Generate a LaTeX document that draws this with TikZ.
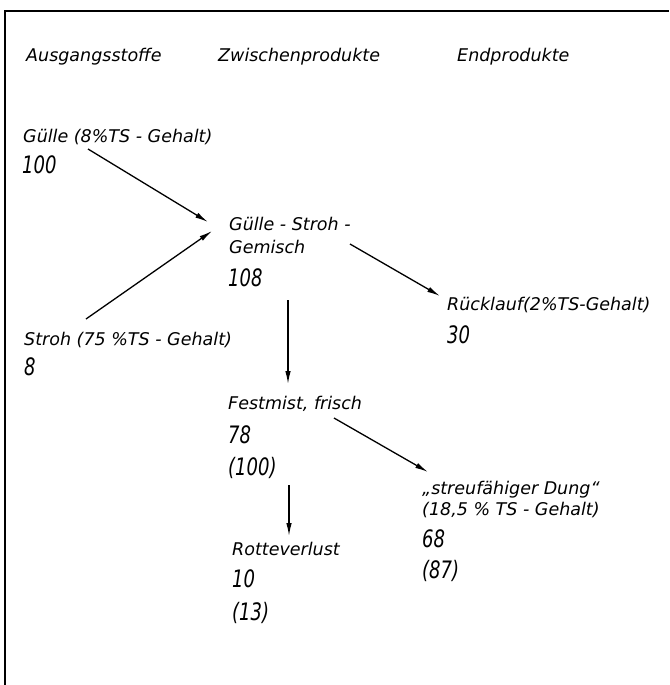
\documentclass[tikz,border=0pt]{standalone}
\usepackage{fontspec}
\setmainfont{DejaVu Sans}
\newfontfamily\numfont[FakeStretch=0.75]{DejaVu Sans}
\usepackage{tikz}
\usetikzlibrary{arrows.meta,calc}

\begin{document}
\begin{tikzpicture}[
  x=1pt,y=-1pt,
  lbl/.style={anchor=base west,inner sep=0pt,font=\fontsize{17.5}{21}\selectfont\itshape},
  val/.style={anchor=base west,inner sep=0pt,font=\fontsize{24}{28}\selectfont\numfont\itshape},
  flow/.style={-{Latex[length=13pt,width=5.5pt]},line width=1.3pt},
  frame/.style={line width=1.8pt}
]
\useasboundingbox (0,0) rectangle (669,685);
\draw[frame] (5,685) -- (5,11) -- (669,11);

\node[lbl] (hdin) at (26,62) {Ausgangsstoffe};
\node[lbl] (hdmid) at (218,62) {Zwischenprodukte};
\node[lbl] (hdout) at (457,62) {Endprodukte};

\node[lbl] (guelle) at (23,142) {Gülle (8\%TS - Gehalt)};
\node[val] (guelleval) at (22,173) {100};
\node[lbl] (stroh) at (24,345) {Stroh (75 \%TS - Gehalt)};
\node[val] (strohval) at (24,375) {8};

\node[lbl] (mix) at (229,230) {Gülle - Stroh -};
\node[lbl] (mixb) at (229,253) {Gemisch};
\node[val] (mixval) at (228,286) {108};

\node[lbl] (rueck) at (447,310) {Rücklauf(2\%TS-Gehalt)};
\node[val] (rueckval) at (447,343) {30};

\node[lbl] (fest) at (228,409) {Festmist, frisch};
\node[val] (festval) at (228,443) {78};
\node[val] (festpct) at (228,475) {(100)};

\node[lbl] (streu) at (422,494) {„streufähiger Dung“};
\node[lbl] (streuts) at (422,515) {(18,5 \% TS - Gehalt)};
\node[val] (streuval) at (422,547) {68};
\node[val] (streupct) at (422,578) {(87)};

\node[lbl] (rotte) at (232,555) {Rotteverlust};
\node[val] (rotteval) at (232,587) {10};
\node[val] (rottepct) at (232,620) {(13)};

% mass flow
\draw[flow] ($(guelle.base west)+(65,7)$) -- ($(mix.base west)+(-21,-8)$);
\draw[flow] ($(stroh.base west)+(62,-26)$) -- ($(mix.base west)+(-17,1)$);
\draw[flow] ($(mix.base west)+(121,14)$) -- ($(rueck.base west)+(-7,-14)$);
\draw[flow] ($(mixval.base west)+(60,14)$) -- ($(fest.base west)+(60,-25)$);
\draw[flow] ($(fest.base west)+(106,9)$) -- ($(streu.base west)+(6,-22)$);
\draw[flow] ($(festpct.base west)+(61,10)$) -- ($(rotte.base west)+(57,-19)$);
\end{tikzpicture}
\end{document}
